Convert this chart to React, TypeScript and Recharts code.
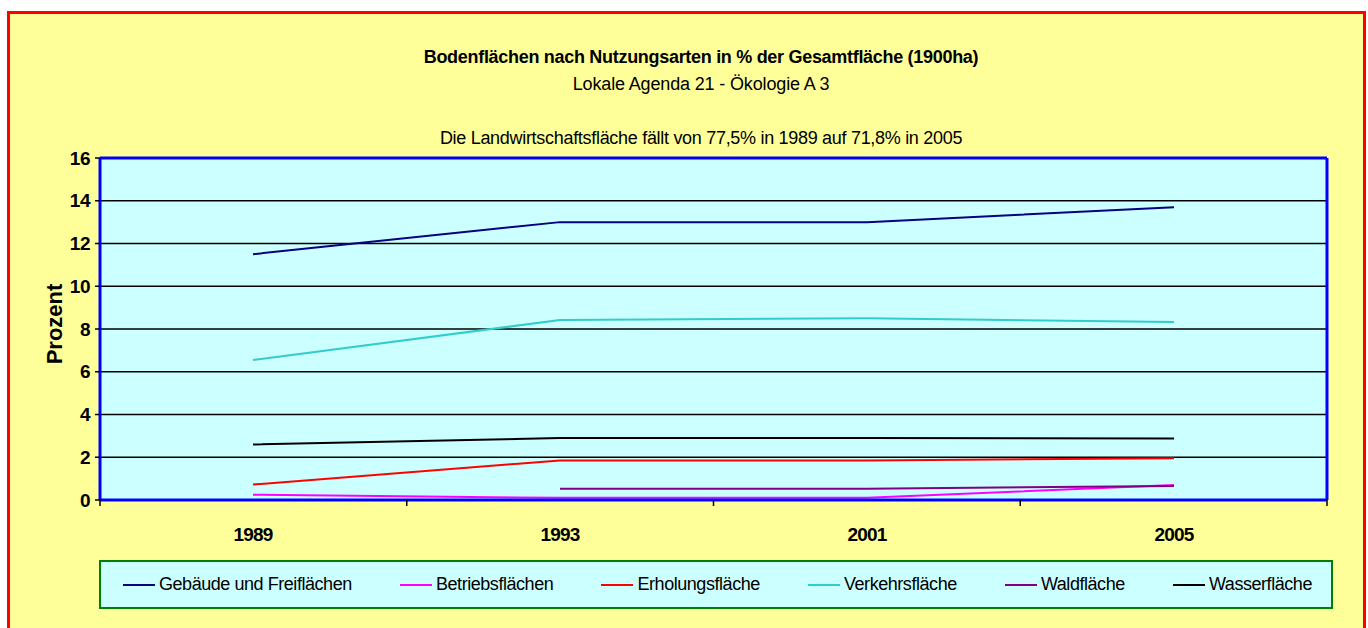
import React from 'react';
import { LineChart, Line, XAxis, YAxis, CartesianGrid, ReferenceLine, Legend } from 'recharts';

const years = ['1989', '1993', '2001', '2005'];
const gebaeude = [11.5, 13.0, 13.0, 13.7];
const betrieb = [0.25, 0.1, 0.1, 0.7];
const erholung = [0.72, 1.85, 1.85, 1.95];
const verkehr = [6.55, 8.42, 8.5, 8.33];
const wald = [null, 0.53, 0.53, 0.65];
const wasser = [2.6, 2.9, 2.9, 2.88];
const yTicks = [0, 2, 4, 6, 8, 10, 12, 14, 16];
const bandTicks = [0, 1, 2, 3, 4];

const series = [
  { key: 'gebaeude', name: 'Gebäude und Freiflächen', color: '#000080', values: gebaeude },
  { key: 'betrieb', name: 'Betriebsflächen', color: '#FF00FF', values: betrieb },
  { key: 'erholung', name: 'Erholungsfläche', color: '#FF0000', values: erholung },
  { key: 'verkehr', name: 'Verkehrsfläche', color: '#33CCCC', values: verkehr },
  { key: 'wald', name: 'Waldfläche', color: '#800080', values: wald },
  { key: 'wasser', name: 'Wasserfläche', color: '#000000', values: wasser },
];

// slot = category index, only used by the axis that draws the Excel-style tick marks between years
const data = years.map((year, i) => {
  const row: Record<string, any> = { year, slot: i };
  series.forEach((s) => {
    row[s.key] = s.values[i];
  });
  return row;
});

const FONT = '"Liberation Sans", Arial, sans-serif';

function LegendBox() {
  return (
    <div
      style={{
        boxSizing: 'border-box',
        width: 1234,
        height: 49,
        border: '2px solid #008000',
        background: '#CCFFFF',
        display: 'flex',
        alignItems: 'center',
        justifyContent: 'space-between',
        padding: '0 19px 0 22px',
        fontFamily: FONT,
      }}
    >
      {series.map((s) => (
        <div key={s.key} style={{ display: 'flex', alignItems: 'center' }}>
          <span style={{ display: 'inline-block', width: 32, height: 2, background: s.color, marginRight: 4 }} />
          <span style={{ fontSize: 18, letterSpacing: -0.45, color: '#000' }}>{s.name}</span>
        </div>
      ))}
    </div>
  );
}

function YLabel({ viewBox }: any) {
  if (!viewBox) return null;
  const cx = viewBox.x + 24;
  const cy = viewBox.y + viewBox.height / 2 - 5;
  return (
    <text
      x={cx}
      y={cy}
      transform={`rotate(-90, ${cx}, ${cy})`}
      textAnchor="middle"
      dominantBaseline="central"
      style={{ fontFamily: FONT, fontSize: 22, fontWeight: 700, fill: '#000' }}
    >
      Prozent
    </text>
  );
}

const titleStyle: React.CSSProperties = {
  position: 'absolute',
  left: 691,
  transform: 'translateX(-50%)',
  whiteSpace: 'nowrap',
  fontSize: 18,
  lineHeight: '18px',
  color: '#000',
};

export default function App() {
  return (
    <div
      style={{
        position: 'fixed',
        left: 7,
        top: 11,
        width: 1359,
        height: 640,
        boxSizing: 'border-box',
        border: '3px solid #FF0000',
        background: '#FFFF99',
        fontFamily: FONT,
      }}
    >
      <div style={{ ...titleStyle, top: 34, fontWeight: 700, letterSpacing: -0.3 }}>
        Bodenflächen nach Nutzungsarten in % der Gesamtfläche (1900ha)
      </div>
      <div style={{ ...titleStyle, top: 61, letterSpacing: -0.15 }}>Lokale Agenda 21 - Ökologie A 3</div>
      <div style={{ ...titleStyle, top: 115, letterSpacing: -0.3 }}>
        Die Landwirtschaftsfläche fällt von 77,5% in 1989 auf 71,8% in 2005
      </div>
      <div style={{ position: 'absolute', left: 0, top: 0 }}>
        <LineChart
          width={1353}
          height={610}
          data={data}
          margin={{ top: 144, right: 36, left: 20, bottom: 66 }}
        >
          <CartesianGrid
            xAxisId="band"
            vertical={false}
            stroke="#000"
            strokeWidth={1.5}
            fill="#CCFFFF"
            fillOpacity={1}
          />
          <XAxis
            xAxisId="band"
            dataKey="slot"
            type="number"
            domain={[0, 4]}
            ticks={bandTicks}
            interval={0}
            allowDataOverflow
            height={18}
            tickSize={6}
            axisLine={{ stroke: '#0000FF', strokeWidth: 3 }}
            tickLine={{ stroke: '#000', strokeWidth: 1.5 }}
            tickFormatter={() => ''}
          />
          <XAxis
            xAxisId="cat"
            dataKey="year"
            height={40}
            padding={{ left: 153, right: 153 }}
            axisLine={false}
            tickLine={false}
            interval={0}
            dy={2}
            tick={{ fill: '#000', fontSize: 19, fontWeight: 700, letterSpacing: -0.8, fontFamily: FONT }}
          />
          <YAxis
            domain={[0, 16]}
            ticks={yTicks}
            interval={0}
            width={70}
            tickSize={5}
            tickMargin={5}
            axisLine={{ stroke: '#0000FF', strokeWidth: 3 }}
            tickLine={{ stroke: '#000', strokeWidth: 1.5 }}
            tick={{ fill: '#000', fontSize: 19, fontWeight: 700, letterSpacing: -0.5, fontFamily: FONT }}
            label={{ content: <YLabel /> }}
          />
          <ReferenceLine xAxisId="band" y={16} stroke="#0000FF" strokeWidth={3} />
          <ReferenceLine xAxisId="band" x={4} stroke="#0000FF" strokeWidth={3} />
          {series.map((s) => (
            <Line
              key={s.key}
              xAxisId="cat"
              type="linear"
              dataKey={s.key}
              name={s.name}
              stroke={s.color}
              strokeWidth={2}
              dot={false}
              activeDot={false}
              isAnimationActive={false}
            />
          ))}
          <Legend
            layout="horizontal"
            verticalAlign="middle"
            align="center"
            wrapperStyle={{ left: 89, top: 546, width: 1234 }}
            content={<LegendBox />}
          />
        </LineChart>
      </div>
    </div>
  );
}
